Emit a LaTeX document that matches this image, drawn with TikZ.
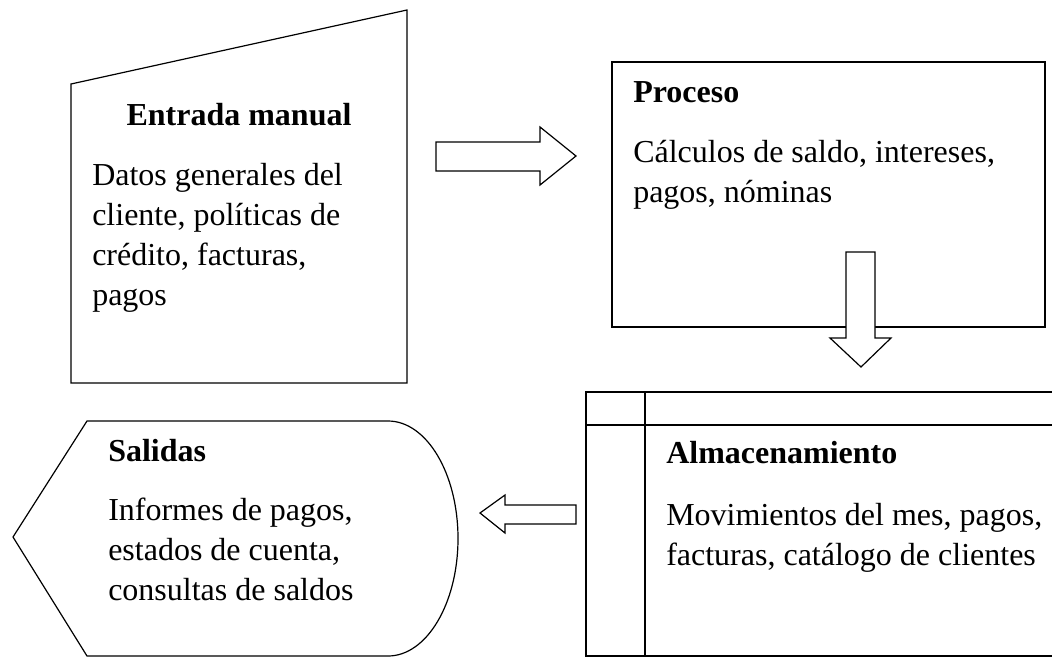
\documentclass[tikz,border=0pt]{standalone}
\usepackage{fontspec}
\setmainfont{Liberation Serif}
\begin{document}
\begin{tikzpicture}[x=0.75pt,y=-0.75pt,
  line/.style={draw=black,line width=0.9pt,line join=miter},
  titletext/.style={font=\fontsize{24}{30}\selectfont\bfseries,inner sep=0pt},
  bodytext/.style={font=\fontsize{24}{30}\selectfont,inner sep=0pt,align=left},
  blockarrow/.style={draw=black,line width=0.9pt,fill=white,line join=miter}]
\useasboundingbox (0,0) rectangle (1052,657);
% Entrada manual
\draw[line] (71,84) -- (407,10) -- (407,383) -- (71,383) -- cycle;
\node[titletext,anchor=base] (tin) at (239,125) {Entrada manual};
\node[bodytext,anchor=base west] (bin) at (92,305) {Datos generales del\\cliente, políticas de\\crédito, facturas,\\pagos};
% Proceso
\draw[line] (612,62) rectangle (1045,327);
\node[titletext,anchor=base west] (tpr) at (633,102) {Proceso};
\node[bodytext,anchor=base west] (bpr) at (633,202) {Cálculos de saldo, intereses,\\pagos, nóminas};
% Almacenamiento
\draw[line] (1070,392) -- (586,392) -- (586,656) -- (1070,656);
\draw[line] (586,425) -- (1070,425);
\draw[line] (645,392) -- (645,656);
\node[titletext,anchor=base west] (tal) at (666,463) {Almacenamiento};
\node[bodytext,anchor=base west] (bal) at (666,565) {Movimientos del mes, pagos,\\facturas, catálogo de clientes};
% Salidas
\draw[line] (87,421) -- (388,421) arc[start angle=-90,end angle=90,x radius=70,y radius=117.5] -- (87,656) -- (13,537) -- cycle;
\node[titletext,anchor=base west] (tsa) at (108,461) {Salidas};
\node[bodytext,anchor=base west] (bsa) at (108,600) {Informes de pagos,\\estados de cuenta,\\consultas de saldos};
% Block arrows
\coordinate (a1) at (436,156);
\draw[blockarrow] (436,142) -- (540,142) -- (540,127) -- (576,156) -- (540,185) -- (540,171) -- (436,171) -- cycle;
\coordinate (a2) at (861,252);
\draw[blockarrow] (846,252) -- (875,252) -- (875,338) -- (891,338) -- (861,367) -- (830,338) -- (846,338) -- cycle;
\coordinate (a3) at (576,514);
\draw[blockarrow] (576,505) -- (505,505) -- (505,495) -- (480,513) -- (505,533) -- (505,524) -- (576,524) -- cycle;
\end{tikzpicture}
\end{document}
